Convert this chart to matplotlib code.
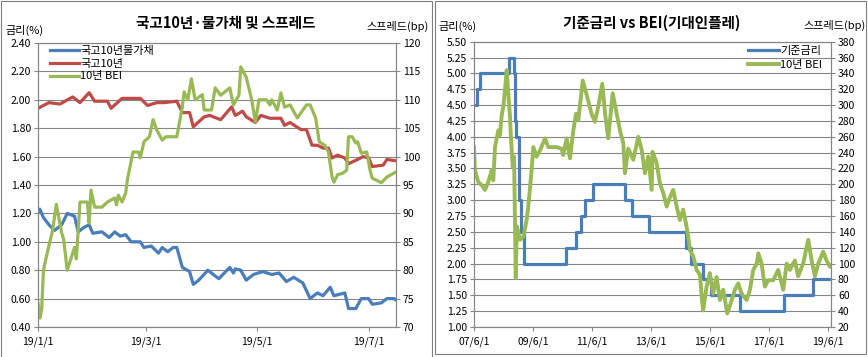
import matplotlib.pyplot as plt
import matplotlib.dates as mdates
import pandas as pd
from matplotlib.patches import Rectangle
from matplotlib.ticker import FuncFormatter, MultipleLocator

plt.rcParams['font.family'] = ['Noto Sans CJK KR', 'DejaVu Sans']
plt.rcParams['axes.unicode_minus'] = False

BLUE = '#4A7EBB'
RED = '#BE4B48'
GREEN = '#98B954'
GRID = '#868686'

# 왼쪽 차트: 국고10년물가채(%), 국고10년(%), 10년 BEI(bp)
ilb_dates = ['2019-01-01', '2019-01-02', '2019-01-04', '2019-01-07', '2019-01-10', '2019-01-14',
             '2019-01-17', '2019-01-21', '2019-01-23', '2019-01-26', '2019-01-29', '2019-01-31',
             '2019-02-05', '2019-02-09', '2019-02-12', '2019-02-15', '2019-02-18', '2019-02-21',
             '2019-02-26', '2019-02-28', '2019-03-04', '2019-03-08', '2019-03-10', '2019-03-13',
             '2019-03-16', '2019-03-18', '2019-03-21', '2019-03-25', '2019-03-27', '2019-03-30',
             '2019-04-04', '2019-04-10', '2019-04-16', '2019-04-18', '2019-04-19', '2019-04-22',
             '2019-04-25', '2019-04-29', '2019-05-04', '2019-05-09', '2019-05-13', '2019-05-17',
             '2019-05-21', '2019-05-26', '2019-05-30', '2019-06-03', '2019-06-06', '2019-06-10',
             '2019-06-12', '2019-06-18', '2019-06-20', '2019-06-24', '2019-06-27', '2019-07-01',
             '2019-07-03', '2019-07-08', '2019-07-11', '2019-07-15', '2019-07-16']
ilb_rate = [1.21, 1.23, 1.17, 1.12, 1.08, 1.12,
            1.20, 1.18, 1.07, 1.10, 1.12, 1.06,
            1.07, 1.03, 1.07, 1.04, 1.05, 1.00,
            1.00, 0.96, 0.97, 0.92, 0.96, 0.93,
            0.96, 0.96, 0.82, 0.79, 0.70, 0.73,
            0.80, 0.74, 0.82, 0.78, 0.81, 0.80,
            0.73, 0.77, 0.79, 0.77, 0.78, 0.72,
            0.75, 0.71, 0.60, 0.64, 0.62, 0.68,
            0.62, 0.64, 0.53, 0.53, 0.60, 0.60,
            0.56, 0.57, 0.60, 0.60, 0.59]

ktb_dates = ['2019-01-01', '2019-01-07', '2019-01-13', '2019-01-20', '2019-01-24', '2019-01-29',
             '2019-02-01', '2019-02-08', '2019-02-10', '2019-02-16', '2019-02-26', '2019-03-02',
             '2019-03-07', '2019-03-11', '2019-03-18', '2019-03-21', '2019-03-25', '2019-03-27',
             '2019-04-02', '2019-04-05', '2019-04-11', '2019-04-17', '2019-04-19', '2019-04-23',
             '2019-04-25', '2019-04-30', '2019-05-03', '2019-05-08', '2019-05-14', '2019-05-16',
             '2019-05-19', '2019-05-25', '2019-05-28', '2019-05-31', '2019-06-03', '2019-06-06',
             '2019-06-09', '2019-06-11', '2019-06-14', '2019-06-18', '2019-06-20', '2019-06-25',
             '2019-06-28', '2019-07-01', '2019-07-03', '2019-07-09', '2019-07-11', '2019-07-16']
ktb_rate = [1.94, 1.98, 1.97, 2.02, 1.98, 2.05,
            1.99, 1.99, 1.94, 2.01, 2.01, 1.96,
            1.98, 1.98, 1.99, 1.91, 1.91, 1.81,
            1.88, 1.89, 1.86, 1.95, 1.89, 1.92,
            1.88, 1.84, 1.89, 1.87, 1.87, 1.82,
            1.84, 1.79, 1.79, 1.68, 1.68, 1.66,
            1.66, 1.59, 1.61, 1.59, 1.55, 1.58,
            1.60, 1.59, 1.53, 1.54, 1.58, 1.57]

bei_dates = ['2019-01-01', '2019-01-02', '2019-01-03', '2019-01-04', '2019-01-06', '2019-01-09',
             '2019-01-11', '2019-01-14', '2019-01-15', '2019-01-17', '2019-01-21', '2019-01-22',
             '2019-01-24', '2019-01-28', '2019-01-29', '2019-01-30', '2019-02-01', '2019-02-05',
             '2019-02-08', '2019-02-12', '2019-02-13', '2019-02-14', '2019-02-16', '2019-02-18',
             '2019-02-19', '2019-02-22', '2019-02-25', '2019-02-26', '2019-02-28', '2019-03-03',
             '2019-03-05', '2019-03-07', '2019-03-10', '2019-03-12', '2019-03-18', '2019-03-21',
             '2019-03-22', '2019-03-24', '2019-03-26', '2019-03-28', '2019-04-01', '2019-04-02',
             '2019-04-06', '2019-04-08', '2019-04-11', '2019-04-16', '2019-04-18', '2019-04-21',
             '2019-04-22', '2019-04-25', '2019-04-28', '2019-04-30', '2019-05-02', '2019-05-06',
             '2019-05-08', '2019-05-09', '2019-05-12', '2019-05-14', '2019-05-16', '2019-05-19',
             '2019-05-23', '2019-05-28', '2019-05-30', '2019-06-02', '2019-06-04', '2019-06-07',
             '2019-06-09', '2019-06-11', '2019-06-12', '2019-06-14', '2019-06-17', '2019-06-19',
             '2019-06-20', '2019-06-22', '2019-06-24', '2019-06-25', '2019-06-27', '2019-06-30',
             '2019-07-02', '2019-07-03', '2019-07-08', '2019-07-11', '2019-07-16']
bei_bp = [74.2, 71.6, 73.0, 80.0, 83.0, 87.0,
          91.6, 86.5, 85.5, 80.0, 84.0, 82.0,
          92.0, 92.0, 88.3, 94.1, 91.1, 91.1,
          92.0, 92.7, 91.5, 93.2, 92.0, 93.6,
          96.0, 100.8, 100.8, 99.8, 102.6, 103.5,
          106.5, 104.7, 102.9, 103.5, 103.5, 108.7,
          111.4, 110.0, 113.7, 110.0, 110.9, 108.2,
          108.2, 112.1, 110.8, 112.1, 109.1, 110.8,
          115.8, 114.0, 110.0, 106.1, 110.0, 110.0,
          109.1, 110.0, 108.2, 111.2, 108.7, 109.1,
          106.8, 109.1, 109.1, 106.8, 102.6, 102.0,
          100.8, 96.4, 95.5, 96.8, 97.1, 97.6,
          103.5, 103.5, 102.4, 102.6, 100.6, 100.8,
          97.3, 96.2, 95.4, 96.4, 97.3]

# 오른쪽 차트: 기준금리(%), 10년 BEI(bp)
base_dates = ['2007-06-01', '2007-07-12', '2007-08-09', '2008-08-07', '2008-10-09', '2008-10-27',
              '2008-11-07', '2008-12-11', '2009-01-09', '2009-02-12', '2010-07-09', '2010-11-16',
              '2011-01-13', '2011-03-10', '2011-06-10', '2012-07-12', '2012-10-11', '2013-05-09',
              '2014-08-14', '2014-10-15', '2015-03-12', '2015-06-11', '2016-06-09', '2017-11-30',
              '2018-11-30', '2019-07-15']
base_rate = [4.50, 4.75, 5.00, 5.25, 5.00, 4.25,
             4.00, 3.00, 2.50, 2.00, 2.25, 2.50,
             2.75, 3.00, 3.25, 3.00, 2.75, 2.50,
             2.25, 2.00, 1.75, 1.50, 1.25, 1.50,
             1.75, 1.75]

bei_long_dates = ['2007-06-01', '2007-06-13', '2007-07-23', '2007-09-05', '2007-10-15', '2007-11-25',
                  '2008-01-07', '2008-01-26', '2008-02-16', '2008-03-28', '2008-04-18', '2008-05-09',
                  '2008-05-29', '2008-06-19', '2008-07-10', '2008-07-30', '2008-08-20', '2008-09-02',
                  '2008-09-23', '2008-10-09', '2008-10-21', '2008-10-30', '2008-11-12', '2008-12-22',
                  '2009-02-02', '2009-03-14', '2009-04-03', '2009-05-15', '2009-06-05', '2009-07-16',
                  '2009-08-27', '2009-10-28', '2009-12-08', '2010-03-20', '2010-05-21', '2010-06-10',
                  '2010-07-22', '2010-09-02', '2010-10-13', '2010-11-16', '2010-12-14', '2011-02-07',
                  '2011-03-27', '2011-05-27', '2011-07-08', '2011-08-18', '2011-10-07', '2011-11-10',
                  '2011-12-20', '2012-02-13', '2012-03-24', '2012-05-13', '2012-06-23', '2012-07-14',
                  '2012-08-24', '2012-10-25', '2012-12-26', '2013-02-07', '2013-03-18', '2013-04-28',
                  '2013-06-10', '2013-06-20', '2013-07-20', '2013-08-10', '2013-09-20', '2013-11-01',
                  '2013-12-13', '2014-01-23', '2014-03-03', '2014-04-15', '2014-05-25', '2014-07-05',
                  '2014-08-08', '2014-09-06', '2014-09-27', '2014-11-07', '2014-12-19', '2015-01-29',
                  '2015-02-19', '2015-03-09', '2015-04-21', '2015-06-01', '2015-07-11', '2015-08-23',
                  '2015-10-03', '2015-11-13', '2016-01-02', '2016-02-26', '2016-04-06', '2016-05-17',
                  '2016-06-28', '2016-08-29', '2016-10-09', '2016-11-19', '2017-01-01', '2017-01-20',
                  '2017-03-02', '2017-04-12', '2017-05-23', '2017-07-24', '2017-09-24', '2017-11-26',
                  '2018-01-07', '2018-02-17', '2018-04-18', '2018-05-29', '2018-07-30', '2018-10-01',
                  '2018-11-12', '2018-12-23', '2019-02-02', '2019-04-04', '2019-05-16', '2019-06-26',
                  '2019-07-15']
bei_long_bp = [247, 218, 203, 199, 193, 203,
               218, 205, 247, 268, 262, 287,
               298, 319, 344, 315, 285, 256,
               222, 235, 151, 82, 147, 130,
               134, 155, 172, 218, 247, 235,
               243, 258, 247, 247, 245, 237,
               258, 233, 268, 289, 281, 331,
               313, 289, 279, 298, 327, 290,
               258, 315, 294, 268, 252, 214,
               245, 231, 260, 243, 214, 235,
               193, 241, 233, 227, 201, 189,
               172, 184, 193, 172, 155, 168,
               151, 134, 117, 109, 92, 86,
               58, 41, 71, 88, 62, 83,
               54, 67, 37, 54, 67, 75,
               62, 54, 67, 92, 100, 113,
               100, 71, 79, 79, 92, 67,
               100, 92, 104, 84, 100, 130,
               104, 84, 100, 115, 104, 96,
               98]


def ymd(x, pos):
    d = mdates.num2date(x)
    return f'{d.year % 100:02d}/{d.month}/{d.day}'


def style(ax, axr):
    for a in (ax, axr):
        for s in a.spines.values():
            s.set_color(GRID)
            s.set_linewidth(0.8)
        a.tick_params(axis='both', labelsize=7.5, color=GRID, length=3, width=0.8, pad=2)
    ax.tick_params(axis='x', pad=4)
    ax.yaxis.grid(True, color=GRID, lw=0.8)
    ax.set_axisbelow(True)
    ax.xaxis.set_major_formatter(FuncFormatter(ymd))


W, H = 868, 357
fig = plt.figure(figsize=(W / 100, H / 100), dpi=100)

# ---- 왼쪽 ----
ax1 = fig.add_axes([38 / W, 30 / H, 358 / W, 284 / H])
ax1r = ax1.twinx()
l1, = ax1.plot(pd.to_datetime(ilb_dates), ilb_rate, color=BLUE, lw=2.3)
l2, = ax1.plot(pd.to_datetime(ktb_dates), ktb_rate, color=RED, lw=2.3)
l3, = ax1r.plot(pd.to_datetime(bei_dates), bei_bp, color=GREEN, lw=2.3)
ax1.set_ylim(0.4, 2.4)
ax1.yaxis.set_major_locator(MultipleLocator(0.2))
ax1.yaxis.set_major_formatter(FuncFormatter(lambda v, p: f'{v:.2f}'))
ax1r.set_ylim(70, 120)
ax1r.yaxis.set_major_locator(MultipleLocator(5))
ax1.set_xlim(pd.Timestamp('2019-01-01'), pd.Timestamp('2019-07-16'))
ax1.set_xticks(pd.to_datetime(['2019-01-01', '2019-03-01', '2019-05-01', '2019-07-01']))
style(ax1, ax1r)
ax1r.legend([l1, l2, l3], ['국고10년물가채', '국고10년', '10년 BEI'], loc='upper left',
            bbox_to_anchor=(0.034, 0.99), frameon=False, fontsize=8, handlelength=2.6,
            handletextpad=0.1, labelspacing=0.25, borderaxespad=0, borderpad=0)

fig.text(226 / W, 1 - 23 / H, '국고10년·물가채 및 스프레드', ha='center', va='center',
         fontsize=10.5, fontweight='bold')
fig.text(5 / W, 1 - 30 / H, '금리(%)', ha='left', va='center', fontsize=8)
fig.text(429 / W, 1 - 26 / H, '스프레드(bp)', ha='right', va='center', fontsize=8)

# ---- 오른쪽 ----
ax2 = fig.add_axes([474 / W, 30 / H, 357 / W, 285.3 / H])
ax2r = ax2.twinx()
m1, = ax2.plot(pd.to_datetime(base_dates), base_rate, color=BLUE, lw=2.3, drawstyle='steps-post')
m2, = ax2r.plot(pd.to_datetime(bei_long_dates), bei_long_bp, color=GREEN, lw=2.8)
ax2.set_ylim(1.0, 5.5)
ax2.yaxis.set_major_locator(MultipleLocator(0.25))
ax2.yaxis.set_major_formatter(FuncFormatter(lambda v, p: f'{v:.2f}'))
ax2r.set_ylim(20, 380)
ax2r.yaxis.set_major_locator(MultipleLocator(20))
ax2.set_xlim(pd.Timestamp('2007-06-01'), pd.Timestamp('2019-07-10'))
ax2.set_xticks(pd.to_datetime([f'{y}-06-01' for y in range(2007, 2020, 2)]))
style(ax2, ax2r)
ax2r.legend([m1, m2], ['기준금리', '10년 BEI'], loc='upper left',
            bbox_to_anchor=(0.767, 0.985), frameon=False, fontsize=8, handlelength=2.8,
            handletextpad=0.1, labelspacing=0.35, borderaxespad=0, borderpad=0)

fig.text(652 / W, 1 - 23 / H, '기준금리 vs BEI(기대인플레)', ha='center', va='center',
         fontsize=10.5, fontweight='bold')
fig.text(438 / W, 1 - 26 / H, '금리(%)', ha='left', va='center', fontsize=8)
fig.text(866 / W, 1 - 25 / H, '스프레드(bp)', ha='right', va='center', fontsize=8)

# 패널 테두리
fig.add_artist(Rectangle((1 / W, -0.05), 431 / W, 1.05 - 1 / H, transform=fig.transFigure,
                         fill=False, ec='#7f7f7f', lw=0.8))
fig.add_artist(Rectangle((435 / W, 3 / H), 431 / W, 1 - 4 / H, transform=fig.transFigure,
                         fill=False, ec='#7f7f7f', lw=0.8))

fig.savefig('out.png', dpi=100, facecolor='white')
